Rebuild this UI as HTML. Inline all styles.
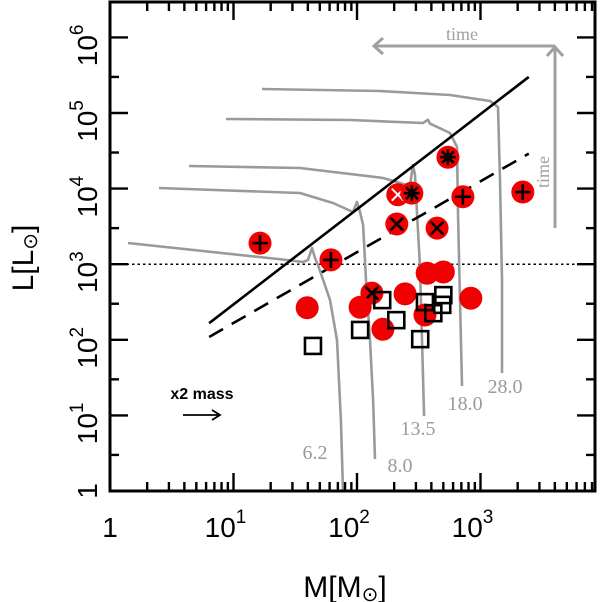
<!DOCTYPE html>
<html><head><meta charset="utf-8"><style>
html,body{margin:0;padding:0;background:#fff;}
svg{display:block;}
</style></head><body>
<svg id="chart" width="600" height="602" viewBox="0 0 600 602" xmlns="http://www.w3.org/2000/svg" font-family="Liberation Sans, sans-serif">
</svg>
<script>
// ---- data ----
const xDecades = [0,1,2,3];
const xTickLabels = ["1","10","10","10"];
const xTickExps = ["","1","2","3"];
const yDecades = [0,1,2,3,4,5,6];
const yTickLabels = ["1","10","10","10","10","10","10"];
const yTickExps = ["","1","2","3","4","5","6"];
// red circles: [mass, luminosity, marker]
const circleMass = [16.4,61.5,545,214,278,720,2200,210,445,132,39.5,106,162,245,370,500,355,835];
const circleLum  = [1900,1140,26000,8300,8700,7800,9000,3400,3000,415,265,270,138,405,760,790,213,355];
const circleMark = ["plus","plus","star","faint","star","plus","plus","x","x","x","","","","","","","",""];
// open squares
const squareMass = [44,106,160,208,325,355,500,490,415];
const squareLum  = [83,135,335,182,102,315,390,290,225];
// evolutionary tracks (log M, log L)
const trackNames = ["6.2","8.0","13.5","18.0","28.0"];
const track62LogM = [0.146,1.433,1.563,1.603,1.636,1.660,1.684,1.781,1.838,1.870,1.887];
const track62LogL = [3.280,3.056,3.029,3.056,3.214,3.082,2.989,2.526,1.997,0.939,0.0];
const track8LogM = [0.397,1.538,1.806,1.968,2.0,2.024,2.049,2.073,2.105,2.130,2.146];
const track8LogL = [4.008,3.942,3.810,3.690,3.823,3.690,3.519,2.791,1.997,1.204,0.423];
const track135LogM = [0.640,1.538,2.211,2.429,2.453,2.470,2.486,2.510,2.526,2.543];
const track135LogL = [4.299,4.272,4.140,4.034,4.312,4.180,3.677,2.963,1.997,0.992];
const track18LogM = [0.939,1.943,2.534,2.575,2.590,2.753,2.810,2.818,2.834,2.850];
const track18LogL = [4.921,4.907,4.868,4.910,4.860,4.735,4.550,3.677,2.526,1.389];
const track28LogM = [1.231,2.186,2.753,3.077,3.142,3.158,3.174,3.174];
const track28LogL = [5.317,5.291,5.238,5.159,5.079,4.114,2.791,1.561];
const trackLabelMass = [45.7,223,312,750,1580];
const trackLabelLum  = [3.3,2.2,6.8,14.6,24.5];
// reference lines
const solidLineMass = [6.35,2460];
const solidLineLum = [166,300000];
const dashedLineMass = [6.35,2460];
const dashedLineLum = [109,29000];
const dottedLum = 1000;

// ---- axes ----
const X0=110, XD=123.5, Y0=491, YD=75.6, LEFT=110, RIGHT=595, TOP=2, BOTTOM=491;
const sx = m => X0 + XD*Math.log10(m);
const sy = l => Y0 - YD*Math.log10(l);
const sxl = lm => X0 + XD*lm;
const syl = ll => Y0 - YD*ll;
const svg = document.getElementById('chart');
const NS = 'http://www.w3.org/2000/svg';
function mk(tag, attrs, parent){
  const e=document.createElementNS(NS,tag);
  for(const k in attrs) e.setAttribute(k,attrs[k]);
  (parent||svg).appendChild(e); return e;
}

// dotted line
const dl = mk('line',{x1:LEFT,x2:RIGHT,y1:sy(dottedLum),y2:sy(dottedLum),stroke:'#000','stroke-width':1.5,'stroke-dasharray':'2.5,3'});



// tracks
const tracks=[[track62LogM,track62LogL],[track8LogM,track8LogL],[track135LogM,track135LogL],[track18LogM,track18LogL],[track28LogM,track28LogL]];
tracks.forEach((t,i)=>{
  const d = t[0].map((m,j)=>(j?'L':'M')+sxl(m).toFixed(1)+','+syl(t[1][j]).toFixed(1)).join(' ');
  const p = mk('path',{d:d,fill:'none',stroke:'#9a9a9a','stroke-width':2.6,'stroke-linejoin':'round'});
  
  
  const tx = mk('text',{x:sx(trackLabelMass[i]),y:sy(trackLabelLum[i])+7,'font-family':'Liberation Serif, serif','font-size':20,fill:'#9a9a9a','text-anchor':'middle'});
  tx.textContent = trackNames[i];
  
  
});

// solid & dashed lines
const sl = mk('line',{x1:sx(solidLineMass[0]),y1:sy(solidLineLum[0]),x2:sx(solidLineMass[1]),y2:sy(solidLineLum[1]),stroke:'#000','stroke-width':2.6});


const dsh = mk('line',{x1:sx(dashedLineMass[0]),y1:sy(dashedLineLum[0]),x2:sx(dashedLineMass[1]),y2:sy(dashedLineLum[1]),stroke:'#000','stroke-width':2.6,'stroke-dasharray':'16,10'});



// circles
circleMass.forEach((m,i)=>{
  const cx=sx(m), cy=sy(circleLum[i]);
  const g=mk('g',{});
  
  
  mk('circle',{cx:cx,cy:cy,r:11.5,fill:'#f00000'},g);
  const k=circleMark[i], s=8, w=2.6;
  if(k==='plus'||k==='star'){
    mk('line',{x1:cx-s,x2:cx+s,y1:cy,y2:cy,stroke:'#000','stroke-width':w},g);
    mk('line',{x1:cx,x2:cx,y1:cy-s,y2:cy+s,stroke:'#000','stroke-width':w},g);
  }
  if(k==='x'||k==='star'){
    const d=k==='star'?6:6.5;
    mk('line',{x1:cx-d,x2:cx+d,y1:cy-d,y2:cy+d,stroke:'#000','stroke-width':w},g);
    mk('line',{x1:cx-d,x2:cx+d,y1:cy+d,y2:cy-d,stroke:'#000','stroke-width':w},g);
  }
  if(k==='faint'){
    mk('line',{x1:cx-6,x2:cx+6,y1:cy-6,y2:cy+6,stroke:'#fff','stroke-width':2},g);
    mk('line',{x1:cx-6,x2:cx+6,y1:cy+6,y2:cy-6,stroke:'#fff','stroke-width':2},g);
  }
});

// squares
squareMass.forEach((m,i)=>{
  const r=mk('rect',{x:sx(m)-8,y:sy(squareLum[i])-8,width:16,height:16,fill:'none',stroke:'#000','stroke-width':2.6});
  
  
});

// frame
const fr=mk('rect',{x:LEFT,y:TOP,width:RIGHT-LEFT,height:BOTTOM-TOP,fill:'none',stroke:'#000','stroke-width':3});



// x ticks
const xt=mk('g',{stroke:'#000','stroke-width':2.4});


for(let d=0; d<=3; d++){
  for(let k=1;k<=9;k++){
    const x=sx(k*Math.pow(10,d)); if(x>RIGHT-1) continue;
    const L=k===1?18:9;
    mk('line',{x1:x,x2:x,y1:BOTTOM,y2:BOTTOM-L},xt);
    mk('line',{x1:x,x2:x,y1:TOP,y2:TOP+L},xt);
  }
}
// y ticks
const yt=mk('g',{stroke:'#000','stroke-width':2.4});


for(let d=0; d<=6; d++){
  [1,3].forEach(k=>{
    const y=sy(k*Math.pow(10,d)); if(y<TOP+1) return;
    const L=k===1?18:9;
    mk('line',{x1:LEFT,x2:LEFT+L,y1:y,y2:y},yt);
    mk('line',{x1:RIGHT,x2:RIGHT-L,y1:y,y2:y},yt);
  });
}
// x tick labels
xDecades.forEach((d,i)=>{
  const t=mk('text',{x:sx(Math.pow(10,d))-(xTickExps[i]?8:0),y:537,'font-size':28,'text-anchor':'middle',fill:'#000'});
  t.textContent=xTickLabels[i];
  if(xTickExps[i]){ const s=mk('tspan',{dy:-14,'font-size':19},t); s.textContent=xTickExps[i]; }
  
  
});
// y tick labels (rotated)
yDecades.forEach((d,i)=>{
  const y=sy(Math.pow(10,d));
  const t=mk('text',{x:0,y:0,'font-size':28,'text-anchor':'middle',fill:'#000',transform:'translate(97,'+(y-(yTickExps[i]?-8:0))+') rotate(-90)'});
  t.textContent=yTickLabels[i];
  if(yTickExps[i]){ const s=mk('tspan',{dy:-14,'font-size':19},t); s.textContent=yTickExps[i]; }
  
  
});
</script>
<!-- static annotations -->
<svg width="600" height="602" style="position:absolute;left:0;top:0" xmlns="http://www.w3.org/2000/svg">
  <text x="345" y="597" font-family="Liberation Sans, sans-serif" font-size="30" text-anchor="middle">M[M<tspan font-size="20" dy="4">⊙</tspan><tspan dy="-4">]</tspan></text>
  <text transform="translate(33,258) rotate(-90)" font-family="Liberation Sans, sans-serif" font-size="30" text-anchor="middle">L[L<tspan font-size="20" dy="4">⊙</tspan><tspan dy="-4">]</tspan></text>
  <text x="202" y="399" font-family="Liberation Sans, sans-serif" font-weight="bold" font-size="16" text-anchor="middle">x2 mass</text>
  <g stroke="#000" stroke-width="1.8" fill="none">
    <line x1="183" y1="415" x2="220" y2="415"/><polyline points="212,410 220,415 212,420"/>
  </g>
  <g stroke="#a0a0a0" stroke-width="3" fill="none">
    <line x1="374" y1="46" x2="555" y2="46"/><polyline points="383,38 374,46 383,54"/>
    <line x1="555" y1="47" x2="555" y2="228"/><polyline points="547,56 555,47 563,56"/>
  </g>
  <text x="462" y="40" font-family="Liberation Serif, serif" font-size="18" fill="#a0a0a0" text-anchor="middle">time</text>
  <text transform="translate(549,172) rotate(-90)" font-family="Liberation Serif, serif" font-size="18" fill="#a0a0a0" text-anchor="middle">time</text>
</svg>
</body></html>
